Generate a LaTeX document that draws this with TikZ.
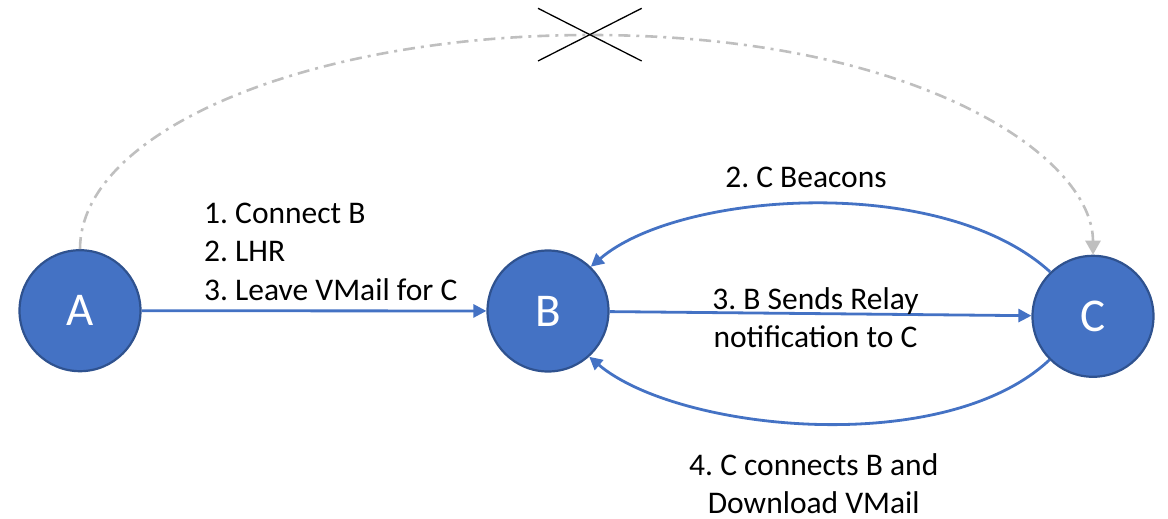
\documentclass[tikz,border=0pt]{standalone}
\usepackage{fontspec}
\setmainfont{Carlito}
\usetikzlibrary{arrows.meta}
\definecolor{nodeblue}{HTML}{4472C4}
\definecolor{nodeedge}{HTML}{2F528F}
\definecolor{linkgray}{HTML}{BFBFBF}
\frenchspacing
\tikzset{
  station/.style={circle, fill=nodeblue, draw=nodeedge, line width=2.2pt,
    minimum size=121pt, inner sep=0pt, text=white,
    font=\fontsize{47}{56}\selectfont},
  link/.style={draw=nodeblue, line width=2.8pt,
    -{Triangle[length=13pt,width=13pt]}},
  ghost/.style={draw=linkgray, line width=2.6pt,
    dash pattern=on 12pt off 6pt on 3pt off 6pt,
    -{Triangle[length=14pt,width=15pt]}},
  lbl/.style={font=\fontsize{31.5}{38.3}\selectfont, inner sep=0pt, text=black},
  cross/.style={draw=black, line width=1.3pt}
}
\begin{document}
\begin{tikzpicture}[x=1pt,y=-1pt]
\useasboundingbox (0,0) rectangle (1168,519);

\node[station] (A) at (80,310.7) {A};
\node[station] (B) at (548,311) {B};
\node[station] (C) at (1093,316.3) {C};

% gray dash-dot link A -> C, crossed out
\coordinate (top) at (590,35);
\draw[ghost] (A.north) .. controls (80,131) and (308.5,35) .. (top)
  .. controls (916,35) and (1093,156) .. (C.north);
\coordinate (x1) at (538,8.3);
\coordinate (x2) at (641.7,61);
\coordinate (x3) at (538,61);
\coordinate (x4) at (641.7,8.3);
\draw[cross] (x1) -- (x2);
\draw[cross] (x3) -- (x4);

% blue links
\draw[link] (A) -- (B);
\draw[link] (B) -- (C);
\draw[link] (C.134.3) .. controls (942,173) and (679,191) .. (B.46.5);
\draw[link] (C.225.5) .. controls (944,459) and (677,431) .. (B.312.6);

% labels (base anchor = baseline of the last line)
\node[lbl, anchor=base west, align=left] (l1) at (204,300)
  {1. Connect B\\2. LHR\\3. Leave VMail for C};
\node[lbl, anchor=base] (l2) at (806,187.3) {2. C Beacons};
\node[lbl, anchor=base, align=center] (l3) at (815.5,347.3)
  {3. B Sends Relay\\notification to C};
\node[lbl, anchor=base, align=center] (l4) at (813.8,513.3)
  {4. C connects B and\\Download VMail};
\end{tikzpicture}
\end{document}
